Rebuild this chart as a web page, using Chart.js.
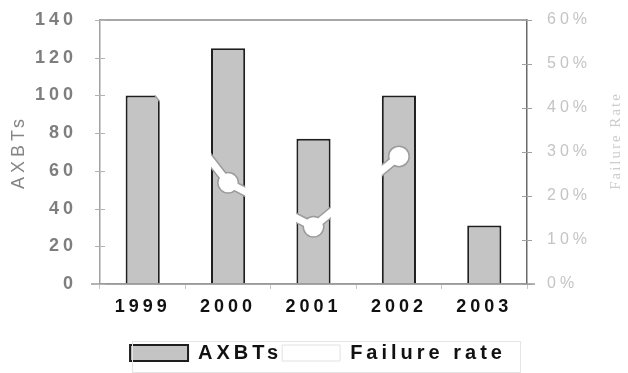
<!DOCTYPE html>
<html>
<head>
<meta charset="utf-8">
<script src="https://cdn.jsdelivr.net/npm/chart.js@4/dist/chart.umd.min.js"></script>
<style>
  html, body { margin: 0; padding: 0; background: #fff; }
  canvas { display: block; }
</style>
</head>
<body>
<canvas id="c" width="628" height="373"></canvas>
<script>
// Yearly AXBT deployments and their failure rate
const years = ['1999', '2000', '2001', '2002', '2003'];
const axbtCounts = [100, 125, 77, 100, 31];
const failureRate = [48, 23, 13, 29, null];   // percent
const rightTitle = 'Failure Rate';

const FONT = "'Liberation Sans', Arial, sans-serif";
const SPACING = '4px';

// wide letter spacing for all canvas text
const spacing = {
  id: 'spacing',
  beforeUpdate(chart) { chart.ctx.letterSpacing = SPACING; },
  beforeLayout(chart) { chart.ctx.letterSpacing = SPACING; },
  beforeDraw(chart) { chart.ctx.letterSpacing = SPACING; }
};

// the grey edge of the rate line only shows where it crosses a bar
const edgeClip = {
  id: 'edgeClip',
  beforeDatasetDraw(chart, args) {
    if (args.index !== 1) return;
    const bars = chart.getDatasetMeta(0).data;
    const ctx = chart.ctx;
    ctx.save();
    ctx.beginPath();
    bars.forEach(b => {
      const p = b.getProps(['x', 'y', 'base', 'width'], true);
      ctx.rect(p.x - p.width / 2, p.y, p.width, p.base - p.y);
    });
    ctx.clip();
  },
  afterDatasetDraw(chart, args) {
    if (args.index !== 1) return;
    chart.ctx.restore();
  }
};

// short tick marks that cross the value axes
function crossTicks(ctx, scale, x, color) {
  ctx.strokeStyle = color;
  ctx.lineWidth = 1;
  scale.ticks.forEach(t => {
    const y = Math.round(scale.getPixelForValue(t.value)) + 0.5;
    ctx.beginPath();
    ctx.moveTo(x - 5, y);
    ctx.lineTo(x + 5, y);
    ctx.stroke();
  });
}

// top frame line, extended base line, tick marks, legend box and right-hand axis title
const frame = {
  id: 'frame',
  afterDraw(chart) {
    const ctx = chart.ctx;
    const a = chart.chartArea;
    ctx.save();
    ctx.strokeStyle = '#8a8a8a';
    ctx.lineWidth = 1.5;
    ctx.beginPath();
    ctx.moveTo(a.left, a.top);
    ctx.lineTo(a.right, a.top);
    ctx.stroke();

    ctx.strokeStyle = '#9a9a9a';
    ctx.beginPath();
    ctx.moveTo(a.left - 9, a.bottom);
    ctx.lineTo(a.right + 8, a.bottom);
    ctx.stroke();

    crossTicks(ctx, chart.scales.y, a.left, '#b4b4b4');
    crossTicks(ctx, chart.scales.y1, a.right, '#a0a0a0');

    const lg = chart.legend;
    const boxes = lg.legendHitBoxes;
    if (boxes && boxes.length) {
      const first = boxes[0];
      const last = boxes[boxes.length - 1];
      const x0 = Math.round(first.left) + 2.5;
      const x1 = Math.round(last.left + last.width) + 14.5;
      ctx.strokeStyle = '#e4e4e4';
      ctx.lineWidth = 1;
      ctx.strokeRect(x0, lg.top - 1.5, x1 - x0, lg.height + 1);
    }

    ctx.letterSpacing = '2px';
    ctx.fillStyle = '#cdcdcd';
    ctx.font = "15px 'Liberation Serif', serif";
    ctx.translate(616, 141);
    ctx.rotate(-Math.PI / 2);
    ctx.textAlign = 'center';
    ctx.textBaseline = 'middle';
    ctx.fillText(rightTitle, 0, 0);
    ctx.restore();
  }
};

new Chart(document.getElementById('c'), {
  data: {
    labels: years,
    datasets: [
      {
        type: 'bar',
        label: 'AXBTs',
        data: axbtCounts,
        yAxisID: 'y',
        backgroundColor: '#c4c4c4',
        borderColor: '#1e1e1e',
        borderWidth: 2,
        barPercentage: 0.4,
        categoryPercentage: 1,
        order: 3
      },
      {
        type: 'line',
        label: 'edge',
        data: failureRate,
        yAxisID: 'y1',
        borderColor: '#9c9c9c',
        borderWidth: 10,
        pointRadius: 11,
        pointBackgroundColor: '#9c9c9c',
        pointBorderWidth: 0,
        pointHoverRadius: 11,
        spanGaps: false,
        order: 2
      },
      {
        type: 'line',
        label: 'Failure rate',
        data: failureRate,
        yAxisID: 'y1',
        borderColor: '#ffffff',
        borderWidth: 7,
        pointRadius: 9.5,
        pointBackgroundColor: '#ffffff',
        pointBorderWidth: 0,
        pointHoverRadius: 9.5,
        spanGaps: false,
        order: 1
      }
    ]
  },
  options: {
    responsive: false,
    animation: false,
    devicePixelRatio: 1,
    layout: { padding: { top: 20, left: 8, right: 0, bottom: 0 } },
    plugins: {
      tooltip: { enabled: false },
      legend: {
        position: 'bottom',
        labels: {
          font: { family: FONT, size: 20, weight: 'bold' },
          color: '#111',
          boxWidth: 58,
          boxHeight: 16,
          padding: 0,
          filter: item => item.text !== 'edge',
          sort: (a, b) => a.datasetIndex - b.datasetIndex,
          generateLabels(chart) {
            const items = Chart.defaults.plugins.legend.labels.generateLabels(chart);
            items.forEach(it => {
              if (it.text === 'AXBTs') {
                it.fillStyle = '#c4c4c4';
                it.strokeStyle = '#1e1e1e';
                it.lineWidth = 2;
              } else if (it.text === 'Failure rate') {
                it.fillStyle = '#ffffff';
                it.strokeStyle = '#e2e2e2';
                it.lineWidth = 1;
              }
            });
            return items;
          }
        }
      }
    },
    scales: {
      x: {
        offset: true,
        grid: { drawOnChartArea: false, tickLength: 5, color: '#c8c8c8' },
        border: { color: '#9a9a9a', width: 1.5 },
        ticks: {
          font: { family: FONT, size: 18, weight: 'bold' },
          color: '#111',
          padding: 7
        },
        afterFit(s) { s.height = 59; }
      },
      y: {
        position: 'left',
        min: 0,
        max: 140,
        ticks: {
          stepSize: 20,
          font: { family: FONT, size: 18, weight: 'bold' },
          color: '#7e7e7e',
          padding: 8
        },
        grid: { drawOnChartArea: false, tickLength: 15, color: 'rgba(0,0,0,0)' },
        border: { color: '#a0a0a0', width: 1.5 },
        title: {
          display: true,
          text: 'AXBTs',
          font: { family: FONT, size: 18 },
          color: '#858585',
          padding: 0
        },
        afterFit(s) { s.width = 92; }
      },
      y1: {
        position: 'right',
        min: 0,
        max: 60,
        ticks: {
          stepSize: 10,
          callback: v => v + '%',
          font: { family: FONT, size: 16 },
          color: '#c4c4c4',
          padding: 6
        },
        grid: { drawOnChartArea: false, tickLength: 14, color: 'rgba(0,0,0,0)' },
        border: { color: '#6a6a6a', width: 1.5 },
        afterFit(s) { s.width = 101; }
      }
    }
  },
  plugins: [spacing, edgeClip, frame]
});
</script>
</body>
</html>
